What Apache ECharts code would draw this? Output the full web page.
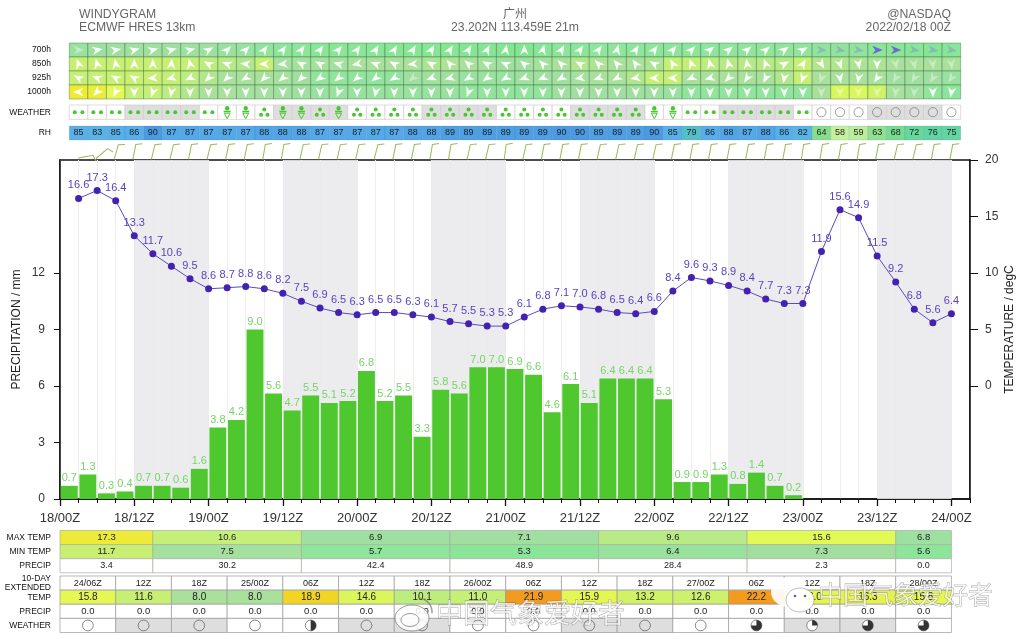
<!DOCTYPE html>
<html><head><meta charset="utf-8">
<style>html,body{margin:0;padding:0;background:#fff}#c{width:1024px;height:639px}</style>
<script src="https://cdn.jsdelivr.net/npm/echarts@6/dist/echarts.min.js"></script>
</head><body><div id="c"></div>
<script>
const precip=[0.7,1.3,0.3,0.4,0.7,0.7,0.6,1.6,3.8,4.2,9.0,5.6,4.7,5.5,5.1,5.2,6.8,5.2,5.5,3.3,5.8,5.6,7.0,7.0,6.9,6.6,4.6,6.1,5.1,6.4,6.4,6.4,5.3,0.9,0.9,1.3,0.8,1.4,0.7,0.2];
const temp=[16.6,17.3,16.4,13.3,11.7,10.6,9.5,8.6,8.7,8.8,8.6,8.2,7.5,6.9,6.5,6.3,6.5,6.5,6.3,6.1,5.7,5.5,5.3,5.3,6.1,6.8,7.1,7.0,6.8,6.5,6.4,6.6,8.4,9.6,9.3,8.9,8.4,7.7,7.3,7.3,11.9,15.6,14.9,11.5,9.2,6.8,5.6,6.4];
const rh=[85,83,85,86,90,87,87,87,87,87,88,88,88,87,87,87,87,87,88,88,89,89,89,89,89,89,90,90,89,89,89,90,85,79,86,88,87,88,86,82,64,58,59,63,68,72,76,75];
const weatherCodes="DDDDDDDDSSRSSRSRRRRRRRRRRRRRRRRSSDDDDDDDCCCCCCCC".slice(0,48);
const skyShade=[0,0,0,1,1,1,1,0,0,0,0,1,1,1,1,0,0,0,0,1,1,1,1,0,0,0,0,1,1,1,1,0,0,0,0,1,1,1,1,0,0,0,0,1,1,1,1,0];
const levels=['700h','850h','925h','1000h'];
const windDir700=[90,80,80,75,75,75,75,60,45,45,35,35,35,35,40,35,30,30,30,30,30,30,25,10,0,15,30,35,35,15,30,35,40,45,50,50,50,50,55,60,95,100,100,90,90,100,100,100];
const windDir850=[340,345,350,0,0,5,345,300,290,275,270,265,300,300,285,260,290,300,265,300,320,310,300,295,310,315,315,300,315,320,325,300,330,340,345,345,350,340,60,30,150,160,170,180,170,170,175,175];
const windDir925=[300,290,300,300,265,255,245,225,225,240,225,230,225,235,230,230,230,240,230,250,255,240,235,240,250,245,240,260,250,240,260,270,270,245,255,225,215,205,190,200,200,170,190,215,210,210,210,215];
const windDir1000=[270,225,205,180,200,190,180,180,180,180,180,180,180,180,200,180,190,180,180,180,180,200,180,180,180,180,180,180,180,180,180,180,180,180,180,180,180,180,180,180,180,180,180,180,185,185,180,190];
const windT700=[6.5,6.8,7,7,7,7,6.8,6.8,6.5,6.5,6,5.5,5.5,5.2,5.2,5.2,5.2,5,5,5,5,4.8,4.8,4.6,4.5,5,5.5,5.5,5.8,5.8,5.6,5.6,5.6,5.6,5.8,6,6,6,6,6,6,6,6,5.5,5.2,5.2,5,5.2];
const windT850=[11.8,11.8,11.8,11.6,11.6,11.5,11,10,9.5,9,11.4,7.5,7.5,7.5,7.5,8,8,8,8,8.5,8.5,8,7.5,7,7,7.5,8,9,8.5,8,8,8.5,11,10.5,10,9.5,9.5,9.5,9.5,11,9,9,8.5,8.5,8,8,8,8];
const windT925=[11,11,11.5,12,12,10.5,10,9,8,8,8,7.5,7,6,6,6,6,6,7,7,7,6.5,6.5,6.5,7,7,7,7.5,8,8,9,10.5,10.5,8,8,8,8,8,9,11,8,8,8,8,7,7,7,6.5];
const windT1000=[17.5,17,15.5,11,11,10,9,8,8,7.5,7.5,7,7,6.5,6.5,6.5,6.5,6.5,6.5,6.5,6.5,6,6,6,6,6,7,7,7,7,7,7,6.5,6,6,6,6,6,6,6,8,14.5,14.5,13,8,7,6,5.5];
const windFaint700=[0,40,41,42,45,46,47];
const windFaint850=[44,45,46,47];
const windFaint925=[18,40,44,45,46,47];
const windFaint1000=[40,41,42,43,44,45];
const windBlue700=[40,41,42,43,44,45,46,47];
const barbTilt=[72,42,8,4,6,6,4,6,4,4,2,2,5,5,5,5,6,4,4,2,2,5,5,0,5,3,3,3,5,5,5,5,4,3,3,3,3,3,3,1,2,2,2,3,5,6,3,3];
const dailySpans=[[0,15],[15,39],[39,63],[63,87],[87,111],[111,135],[135,144]];
const dailyMax=[17.3,10.6,6.9,7.1,9.6,15.6,6.8];
const dailyMin=[11.7,7.5,5.7,5.3,6.4,7.3,5.6];
const dailyPrecip=[3.4,30.2,42.4,48.9,28.4,2.3,0.0];
const extTimes=['24/06Z','12Z','18Z','25/00Z','06Z','12Z','18Z','26/00Z','06Z','12Z','18Z','27/00Z','06Z','12Z','18Z','28/00Z'];
const extTemp=[15.8,11.6,8.0,8.0,18.9,14.6,10.1,11.0,21.9,15.9,13.2,12.6,22.2,16.0,16.3,15.8];
const extPrecip=[0.0,0.0,0.0,0.0,0.0,0.0,0.0,0.0,0.0,0.0,0.0,0.0,0.0,0.0,0.0,0.0];
const extCloud=[0,0,0,0,0.5,0,0,0,0,0,0,0,0.75,0.25,0.75,0.75];
const extShade=[0,1,1,0,0,1,1,0,0,1,1,0,0,1,1,0];
const tickHours12=[0,12,24,36,48,60,72,84,96,108,120,132,144];
const tickLabels=['18/00Z','18/12Z','19/00Z','19/12Z','20/00Z','20/12Z','21/00Z','21/12Z','22/00Z','22/12Z','23/00Z','23/12Z','24/00Z'];
const nightBands=[[12,24],[36,48],[60,72],[84,96],[108,120],[132,144]];

const FONT='"Liberation Sans",Arial,sans-serif';
function hex(c){return [1,3,5].map(i=>parseInt(c.substr(i,2),16));}
function ramp(stops,v){
  if(v<=stops[0][0])return stops[0][1];
  for(let i=1;i<stops.length;i++){ if(v<=stops[i][0]){
    const a=stops[i-1],b=stops[i],t=(v-a[0])/(b[0]-a[0]),p=hex(a[1]),q=hex(b[1]);
    return 'rgb('+p.map((x,k)=>Math.round(x+(q[k]-x)*t)).join(',')+')';}}
  return stops[stops.length-1][1];
}
const tempStops=[[4.5,'#82e592'],[5.7,'#8ee59c'],[7,'#a0dfa0'],[8,'#a8e09c'],[9.6,'#b8ea86'],[10.6,'#c4ef78'],[12,'#c9ef72'],[13.2,'#d0f266'],[15.6,'#e3f955'],[16.5,'#e6f04a'],[17.5,'#efea32'],[18.9,'#f2d524'],[21.9,'#f29b1e']];
const rhStops=[[58,'#c6f09e'],[64,'#88dd8c'],[72,'#66d89c'],[76,'#60d4a4'],[79,'#55bfc8'],[82,'#5ab4e6'],[86,'#58aeea'],[90,'#4b9ae2']];
const tempColor=v=>ramp(tempStops,v), rhColor=v=>ramp(rhStops,v);
const hourOfCol=i=>(i+1)*3;

function cellSeries(grid,cells,border,extra){
  return {type:'custom',coordinateSystem:'cartesian2d',xAxisIndex:grid+2,yAxisIndex:grid+1,silent:true,z:3,clip:false,
    encode:{x:[0,1],y:2},
    data:cells.map(c=>[c.x0,c.x1,c.row]),
    renderItem(params,api){
      const c=cells[params.dataIndex];
      const a=api.coord([c.x0,c.row]),b=api.coord([c.x1,c.row]);
      const h=api.size([0,1])[1];
      const ch=[{type:'rect',shape:{x:a[0],y:a[1]-h/2,width:b[0]-a[0],height:h},style:{fill:c.fill,stroke:border,lineWidth:0.7}}];
      if(c.text!==undefined)ch.push({type:'text',style:{text:c.text,x:(a[0]+b[0])/2,y:a[1],align:'center',verticalAlign:'middle',fontSize:c.fs||10,fontFamily:FONT,fill:'#222'}});
      if(extra)extra(c,(a[0]+b[0])/2,a[1],ch);
      return {type:'group',children:ch};
    }};
}
function colCells(fn,row){return temp.map((_,i)=>Object.assign({x0:hourOfCol(i)-1.5,x1:hourOfCol(i)+1.5,row:row,i:i},fn(i)));}
function arrow(c,x,y,ch){
  const deg=c.dir, faint=c.faint;
  ch.push({type:'polygon',x:x,y:y,rotation:-deg*Math.PI/180,
    shape:{points:[[0,-5.6],[4.2,4.8],[0.2,1.8],[-4.2,4.8]]},
    style:{fill:c.blue?(faint?'rgba(120,130,220,0.4)':'#6a6ad2'):(faint?'rgba(255,255,255,0.38)':'rgba(255,255,255,0.92)')}});
}
function wxIcon(c,x,y,ch){
  const g='#4cc535', dots=p=>p.forEach(q=>ch.push({type:'circle',shape:{cx:x+q[0],cy:y+q[1],r:2},style:{fill:g}}));
  if(c.code==='D')dots([[-3.8,0],[3.8,0]]);
  else if(c.code==='R')dots([[0,-2.6],[-3.2,2.6],[3.2,2.6]]);
  else if(c.code==='C')ch.push({type:'circle',shape:{cx:x,cy:y,r:4.6},style:{fill:c.fill==='#fff'?'#fff':'#dedede',stroke:'#777',lineWidth:0.7}});
  else{ ch.push({type:'circle',shape:{cx:x,cy:y-4,r:2.2},style:{fill:g}});
    ch.push({type:'rect',shape:{x:x-3.5,y:y-1.5,width:7,height:1.6},style:{fill:g}});
    ch.push({type:'polygon',shape:{points:[[x-3,y+1],[x+3,y+1],[x,y+6.5]]},style:{fill:'none',stroke:g,lineWidth:1}});}
}
function cloudIcon(c,x,y,ch){
  const r=5.4;
  ch.push({type:'circle',shape:{cx:x,cy:y,r:r},style:{fill:c.fill==='#fff'||c.cloud>0?'#fff':'#dedede',stroke:'#555',lineWidth:0.7}});
  if(c.cloud>0)ch.push({type:'sector',shape:{cx:x,cy:y,r0:0,r:r,startAngle:-Math.PI/2,endAngle:-Math.PI/2+2*Math.PI*c.cloud,clockwise:true},style:{fill:'#333'}});
}

const windSets=[[windDir700,windT700,windFaint700],[windDir850,windT850,windFaint850],[windDir925,windT925,windFaint925],[windDir1000,windT1000,windFaint1000]];
const windCells=[];
windSets.forEach((s,r)=>colCells(i=>({fill:tempColor(s[1][i]),dir:s[0][i],faint:s[2].includes(i),blue:r===0&&windBlue700.includes(i)}),r).forEach(c=>windCells.push(c)));
const wxCells=colCells(i=>({fill:skyShade[i]?'#dedede':'#fff',code:weatherCodes[i]}),0);
const rhCells=colCells(i=>({fill:rhColor(rh[i]),text:String(rh[i]),fs:9}),0);
const dailyCells=[];
dailySpans.forEach((s,i)=>{
  dailyCells.push({x0:s[0],x1:s[1],row:0,fill:tempColor(dailyMax[i]),text:dailyMax[i].toFixed(1),fs:9.5});
  dailyCells.push({x0:s[0],x1:s[1],row:1,fill:tempColor(dailyMin[i]),text:dailyMin[i].toFixed(1),fs:9.5});
  dailyCells.push({x0:s[0],x1:s[1],row:2,fill:'#fff',text:dailyPrecip[i].toFixed(1),fs:9});
});
const extCells=[];
extTimes.forEach((t,i)=>{
  const x0=i*9,x1=x0+9;
  extCells.push({x0,x1,row:0,fill:'#fff',text:t,fs:9});
  extCells.push({x0,x1,row:1,fill:tempColor(extTemp[i]),text:extTemp[i].toFixed(1),fs:10});
  extCells.push({x0,x1,row:2,fill:'#fff',text:extPrecip[i].toFixed(1),fs:9.5});
  extCells.push({x0,x1,row:3,fill:extShade[i]?'#dedede':'#fff',cloud:extCloud[i],isIcon:true});
});

const gridsPx=[[142,18],[43,56],[105,14.4],[126,14],[530.5,42.3],[576,56.5]];
const grids=[{left:60,top:160,width:910,height:339,show:true,borderColor:'#111',borderWidth:1.5,backgroundColor:'transparent',outerBoundsMode:'none'}]
  .concat(gridsPx.map(g=>({left:60,top:g[0],width:910,height:g[1],outerBoundsMode:'none'})));
const rowLabels=[['WIND'],levels,['WEATHER'],['RH'],['MAX TEMP','MIN TEMP','PRECIP'],['10-DAY\nEXTENDED','TEMP','PRECIP','WEATHER']];

const xAxes=[
 {gridIndex:0,type:'value',min:0,max:147,interval:3,position:'bottom',axisLine:{onZero:false,lineStyle:{color:'#111',width:1.5}},axisTick:{length:4,lineStyle:{color:'#111'}},axisLabel:{show:false},splitLine:{show:true,lineStyle:{color:'#eeeeee',width:1}}},
 {gridIndex:0,type:'value',min:0,max:147,position:'bottom',axisLine:{show:false,onZero:false},splitLine:{show:false},axisTick:{length:7,customValues:tickHours12,lineStyle:{color:'#111',width:1.3}},
  axisLabel:{customValues:tickHours12,formatter:v=>tickLabels[tickHours12.indexOf(v)],fontFamily:FONT,fontSize:13,color:'#333',margin:13,hideOverlap:false,showMinLabel:true}},
 {gridIndex:0,type:'category',show:false,data:Array.from({length:49},(_,i)=>i*3)}
];
rowLabels.forEach((_,i)=>xAxes.push({gridIndex:i+1,type:'value',min:0,max:147,show:false}));
const yAxes=[
 {gridIndex:0,type:'value',min:0,max:18,position:'left',name:'PRECIPITATION / mm',nameLocation:'middle',nameGap:37,nameMoveOverlap:false,nameRotate:90,nameTextStyle:{fontFamily:FONT,fontSize:12,color:'#222'},
  axisLine:{show:true,lineStyle:{color:'#111',width:1.5}},axisTick:{show:true,length:6,customValues:[0,3,6,9,12],lineStyle:{color:'#111'}},splitLine:{show:false},
  axisLabel:{customValues:[0,3,6,9,12],fontFamily:FONT,fontSize:12,color:'#333',margin:15}},
 {gridIndex:0,type:'value',min:-10,max:20,position:'right',name:'TEMPERATURE / degC',nameLocation:'middle',nameGap:34,nameMoveOverlap:false,nameRotate:90,nameTextStyle:{fontFamily:FONT,fontSize:12,color:'#222'},
  axisLine:{show:true,onZero:false,lineStyle:{color:'#111',width:1.5}},axisTick:{show:true,length:8,customValues:[0,5,10,15,20],lineStyle:{color:'#111'}},splitLine:{show:false},
  axisLabel:{customValues:[0,5,10,15,20],fontFamily:FONT,fontSize:12,color:'#333',margin:15}}
];
rowLabels.forEach((r,i)=>yAxes.push({gridIndex:i+1,type:'category',inverse:true,data:r,
  axisLine:{show:false},axisTick:{show:false},splitLine:{show:false},
  axisLabel:{show:i>0,fontFamily:FONT,fontSize:8.5,color:'#111',margin:9,lineHeight:9.5,interval:0,align:'right'}}));

const barbSeries={type:'custom',coordinateSystem:'cartesian2d',xAxisIndex:3,yAxisIndex:2,silent:true,z:3,clip:false,encode:{x:0,y:1},
  data:barbTilt.map((_,i)=>[hourOfCol(i),0]),
  renderItem(p,api){
    const c=api.coord([api.value(0),0]);
    return {type:'polyline',x:c[0],y:c[1]+8.5,originX:0,originY:0,rotation:-barbTilt[p.dataIndex]*Math.PI/180,
      shape:{points:[[-1.5,0],[0.5,-15],[7,-16.2]]},style:{fill:'none',stroke:'#9bb857',lineWidth:1}};
  }};

const series=[
 {type:'line',xAxisIndex:0,yAxisIndex:0,data:[],silent:true,z:1,
  markArea:{silent:true,itemStyle:{color:'#e9e9ec',opacity:0.85},data:nightBands.map(b=>[{xAxis:b[0]},{xAxis:b[1]}])}},
 {type:'bar',xAxisIndex:2,yAxisIndex:0,data:precip,barCategoryGap:'9%',itemStyle:{color:'#4fc72e'},silent:true,z:2,
  label:{show:true,position:'top',distance:2,formatter:p=>p.value.toFixed(1),color:'#74d565',fontFamily:FONT,fontSize:11}},
 {type:'line',xAxisIndex:0,yAxisIndex:1,data:temp.map((t,i)=>[hourOfCol(i),t]),symbol:'circle',symbolSize:7,showAllSymbols:true,silent:true,z:4,
  lineStyle:{color:'#5a4abf',width:1},itemStyle:{color:'#4422b0'},
  label:{show:true,position:'top',distance:4,formatter:p=>p.value[1].toFixed(1),color:'#5b3fc0',fontFamily:FONT,fontSize:11}},
 barbSeries,
 cellSeries(2,windCells,'rgba(40,90,50,0.5)',arrow),
 cellSeries(3,wxCells,'#cfcfcf',wxIcon),
 cellSeries(4,rhCells,'rgba(60,110,140,0.22)'),
 cellSeries(5,dailyCells,'#a8b0a0'),
 cellSeries(6,extCells,'#999',(c,x,y,ch)=>{if(c.isIcon)cloudIcon(c,x,y,ch);})
];

const tx=(text,left,top,extra)=>Object.assign({text,left,top,textStyle:{fontFamily:FONT,fontSize:12.2,fontWeight:'normal',color:'#666'},padding:0},extra||{});
const titles=[tx('WINDYGRAM',79,9),tx('ECMWF HRES 13km',79,22),
  tx('广州',515,7,{textAlign:'center',textStyle:{fontFamily:'"Noto Sans CJK SC"',fontSize:12,fontWeight:'normal',color:'#666'}}),
  tx('23.202N 113.459E 21m',515,22,{textAlign:'center'}),
  tx('@NASDAQ',951,9,{textAlign:'right'}),tx('2022/02/18 00Z',951,22,{textAlign:'right'})];

const wm=(x,y,fs)=>({type:'text',z:50,style:{text:'中国气象爱好者',x,y,fontFamily:'"Noto Sans CJK SC"',fontSize:fs,fill:'rgba(255,255,255,0.72)',stroke:'rgba(90,90,90,0.55)',lineWidth:0.8,verticalAlign:'middle'}});
const logo=[
 {type:'ellipse',z:50,shape:{cx:412,cy:618,rx:17,ry:13},style:{fill:'rgba(255,255,255,0.85)',stroke:'rgba(110,110,110,0.7)',lineWidth:1}},
 {type:'ellipse',z:50,shape:{cx:410,cy:620,rx:9,ry:6.5},style:{fill:'rgba(255,255,255,0.4)',stroke:'rgba(110,110,110,0.7)',lineWidth:1}},
 {type:'arc',z:50,shape:{cx:418,cy:612,r:14,startAngle:-1.4,endAngle:0.1},style:{fill:'none',stroke:'rgba(120,120,120,0.7)',lineWidth:1.5}},
 {type:'ellipse',z:50,shape:{cx:789,cy:592,rx:18,ry:15},style:{fill:'rgba(255,255,255,0.92)',stroke:'none'}},
 {type:'ellipse',z:50,shape:{cx:800,cy:600,rx:14,ry:12},style:{fill:'rgba(255,255,255,0.95)',stroke:'rgba(120,120,120,0.6)',lineWidth:0.8}},
 {type:'circle',z:51,shape:{cx:795,cy:596,r:1.3},style:{fill:'#666'}},
 {type:'circle',z:51,shape:{cx:805,cy:596,r:1.3},style:{fill:'#666'}}
];

const chart=echarts.init(document.getElementById('c'),null,{renderer:'canvas',width:1024,height:639});
chart.setOption({animation:false,backgroundColor:'#fff',title:titles,grid:grids,xAxis:xAxes,yAxis:yAxes,series,
  graphic:[wm(436,613,27),wm(818,594,25)].concat(logo)});
</script></body></html>
